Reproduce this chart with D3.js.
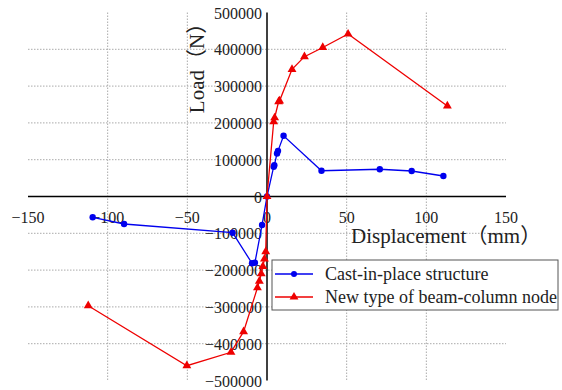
<!DOCTYPE html>
<html>
<head>
  <script src="https://d3js.org/d3.v7.min.js"></script>
  <style>
    body { margin: 0; background: #fff; }
    text { font-family: "Liberation Serif", "Times New Roman", "Noto Sans CJK SC", serif; fill: #222; }
  </style>
</head>
<body>
<script type="text/javascript">

  // displacement (mm) and load (N)
  var castX = [-109.4, -89.7, -21.6, -9.4, -7.6, -3.1, 0, 4.2, 4.6, 6.3, 6.9, 10.4, 34.2, 70.8, 90.8, 110.7];
  var castY = [-56500, -74700, -98400, -181500, -180000, -77400, 0, 81000, 85000, 117000, 124000, 165000, 70000, 74000, 69300, 55700];

  var nodeX = [-112.2, -50.3, -22.6, -14.7, -6, -4.8, -3.6, -2.6, -1.6, -0.8, 0, 4.2, 4.8, 7.3, 7.9, 15.7, 23.5, 35, 50.9, 113.2];
  var nodeY = [-296700, -459800, -423400, -367400, -248000, -230000, -210000, -190000, -170000, -150000, 0, 203000, 214000, 257600, 260000, 345600, 380000, 405000, 441500, 246000];

  var xTicks = [-150, -100, -50, 0, 50, 100, 150];
  var yTicks = [500000, 400000, 300000, 200000, 100000, 0, -100000, -200000, -300000, -400000, -500000];
  var seriesNames = ["Cast-in-place structure", "New type of beam-column node"];

  var width = 562, height = 390;
  var svg = d3.select("body").append("svg")
    .attr("width", width)
    .attr("height", height);

  var x = d3.scaleLinear().domain([-150, 150]).range([28, 506]);
  var y = d3.scaleLinear().domain([-500000, 500000]).range([380.5, 12.5]);

  function fmt(v) { return v < 0 ? "\u2212" + Math.abs(v) : String(v); }

  // grid
  var grid = svg.append("g").attr("stroke", "#aaa").attr("stroke-dasharray", "1.5,1.5").attr("stroke-width", 1);
  grid.selectAll("line.h")
    .data(yTicks.filter(function(d){ return d !== 0 && Math.abs(d) < 500000; }))
    .enter().append("line")
    .attr("x1", x(-150)).attr("x2", x(150))
    .attr("y1", function(d){ return y(d); }).attr("y2", function(d){ return y(d); });
  grid.selectAll("line.v")
    .data(xTicks.filter(function(d){ return d !== 0 && Math.abs(d) < 150; }))
    .enter().append("line")
    .attr("y1", y(500000)).attr("y2", y(-500000))
    .attr("x1", function(d){ return x(d); }).attr("x2", function(d){ return x(d); });

  // axes through origin
  svg.append("line")
    .attr("x1", x(-150)).attr("x2", x(150)).attr("y1", y(0)).attr("y2", y(0))
    .attr("stroke", "#000").attr("stroke-width", 1.5);
  svg.append("line")
    .attr("x1", x(0)).attr("x2", x(0)).attr("y1", y(500000)).attr("y2", y(-500000))
    .attr("stroke", "#000").attr("stroke-width", 1.5);

  // tick labels
  svg.append("g").selectAll("text")
    .data(xTicks).enter().append("text")
    .attr("x", function(d){ return x(d); })
    .attr("y", y(0) + 26)
    .attr("text-anchor", "middle")
    .attr("font-size", 16)
    .text(fmt);

  svg.append("g").selectAll("text")
    .data(yTicks).enter().append("text")
    .attr("x", x(0) - 5)
    .attr("y", function(d){ return y(d) + 6; })
    .attr("text-anchor", "end")
    .attr("font-size", 16)
    .text(fmt);

  // axis titles
  svg.append("text")
    .attr("transform", "translate(204," + 63 + ") rotate(-90)")
    .attr("text-anchor", "middle")
    .attr("font-size", 21)
    .text("Load\uFF08N\uFF09");

  svg.append("text")
    .attr("x", 351).attr("y", 243)
    .attr("font-size", 21)
    .text("Displacement\uFF08mm\uFF09");

  var line = d3.line()
    .x(function(d){ return x(d[0]); })
    .y(function(d){ return y(d[1]); });

  var cast = castX.map(function(d, i){ return [d, castY[i]]; });
  var node = nodeX.map(function(d, i){ return [d, nodeY[i]]; });

  var tri = d3.symbol().type(d3.symbolTriangle).size(34);

  svg.append("path").datum(cast)
    .attr("d", line).attr("fill", "none").attr("stroke", "#0000ee").attr("stroke-width", 1.3);
  svg.append("g").selectAll("circle")
    .data(cast).enter().append("circle")
    .attr("cx", function(d){ return x(d[0]); })
    .attr("cy", function(d){ return y(d[1]); })
    .attr("r", 3.2).attr("fill", "#0000ee");

  svg.append("path").datum(node)
    .attr("d", line).attr("fill", "none").attr("stroke", "#ee0000").attr("stroke-width", 1.3);
  svg.append("g").selectAll("path")
    .data(node).enter().append("path")
    .attr("d", tri)
    .attr("transform", function(d){ return "translate(" + x(d[0]) + "," + y(d[1]) + ")"; })
    .attr("fill", "#ee0000");

  // legend
  var lg = svg.append("g").attr("transform", "translate(272,260)");
  lg.append("rect").attr("width", 286).attr("height", 50)
    .attr("fill", "#fff").attr("stroke", "#555").attr("stroke-width", 1);
  var colors = ["#0000ee", "#ee0000"];
  seriesNames.forEach(function(name, i) {
    var cy = 14 + i * 23;
    lg.append("line").attr("x1", 3).attr("x2", 41).attr("y1", cy).attr("y2", cy)
      .attr("stroke", colors[i]).attr("stroke-width", 1.3);
    if (i === 0) {
      lg.append("circle").attr("cx", 22).attr("cy", cy).attr("r", 3).attr("fill", colors[i]);
    } else {
      lg.append("path").attr("d", tri).attr("transform", "translate(22," + cy + ")").attr("fill", colors[i]);
    }
    lg.append("text").attr("x", 53).attr("y", cy + 6).attr("font-size", 18).text(name);
  });

</script>
</body>
</html>
